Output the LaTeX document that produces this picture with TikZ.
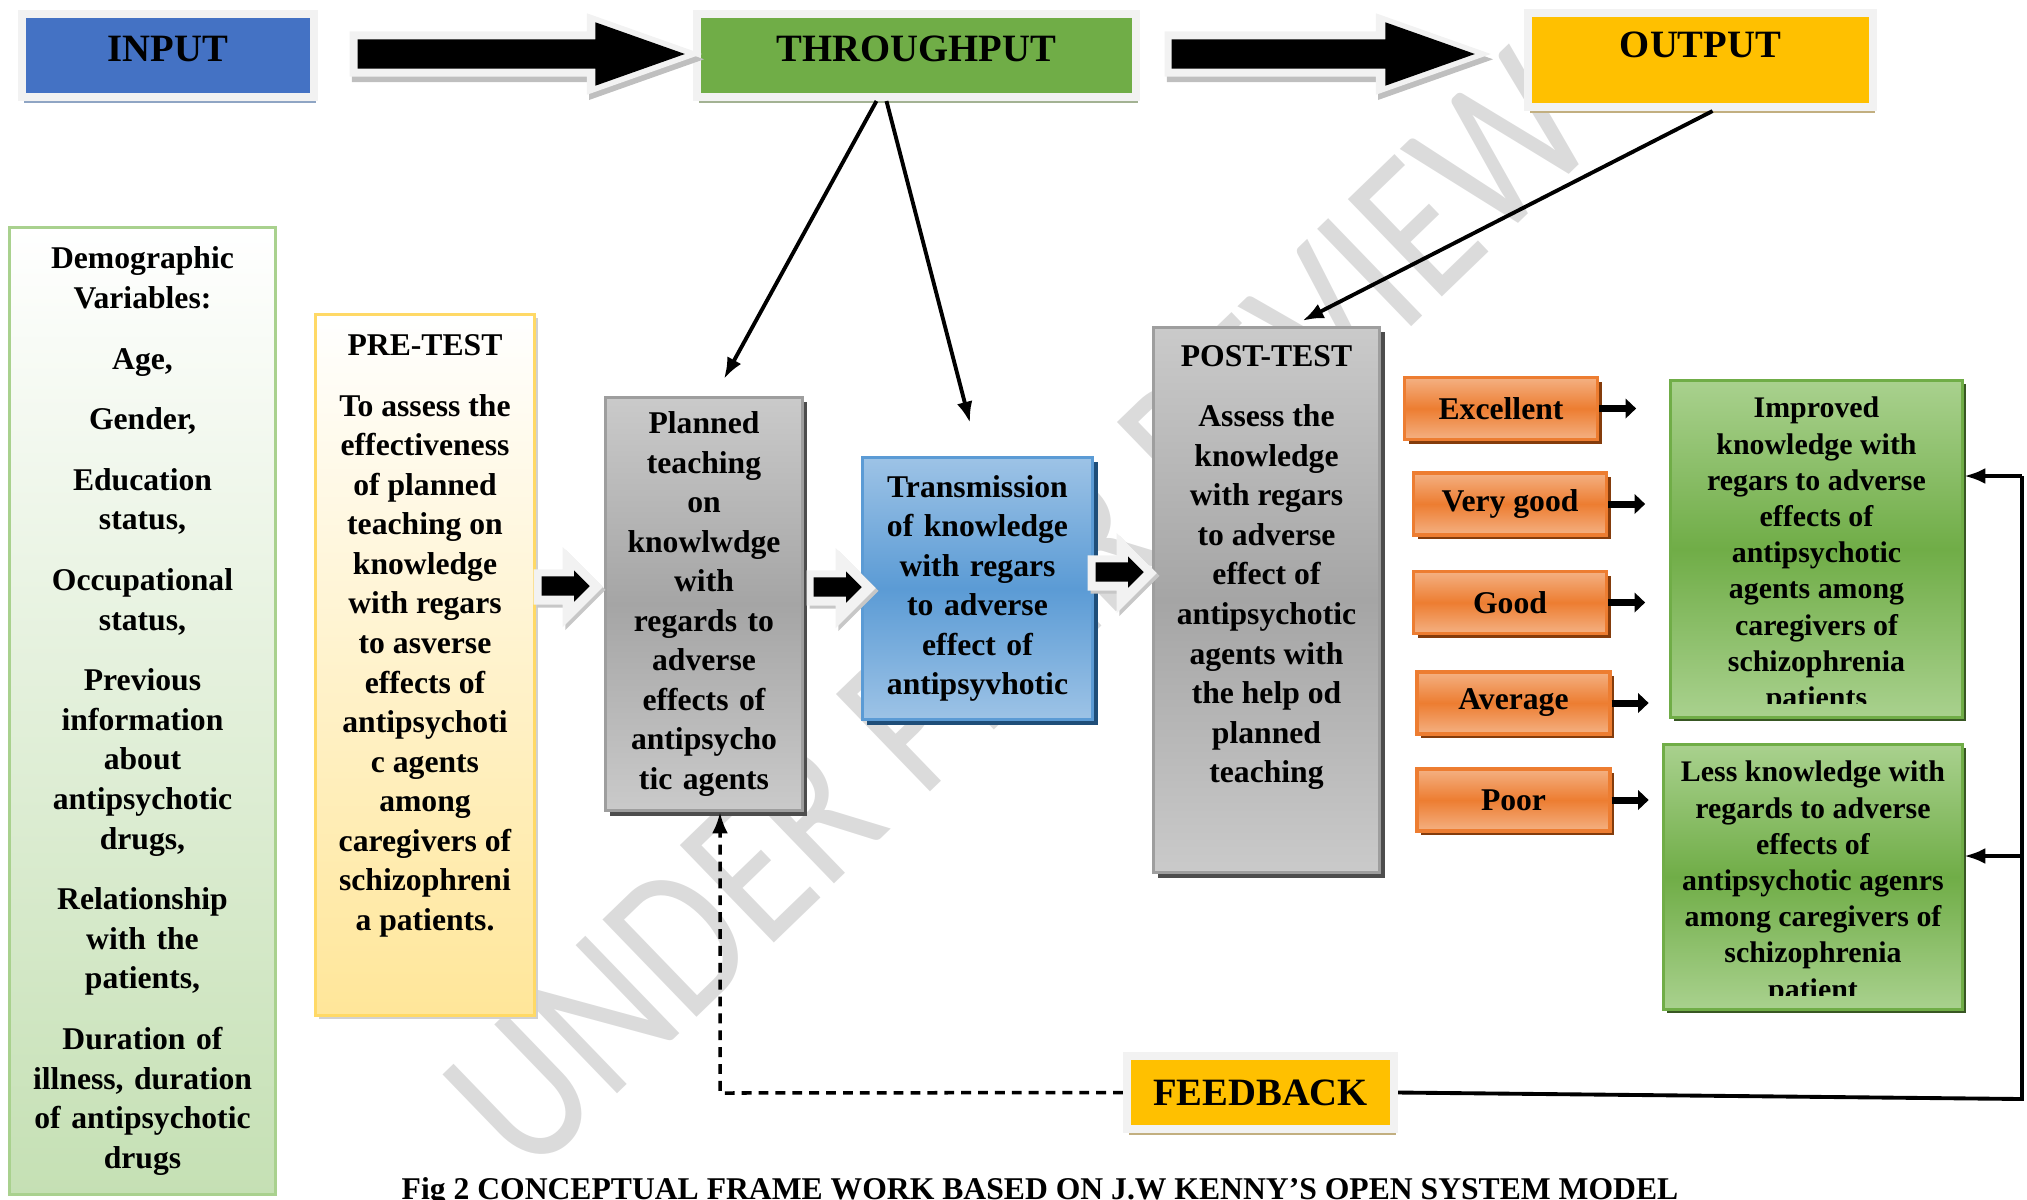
\documentclass[tikz,border=0pt]{standalone}
\usepackage{fontspec}
\setmainfont{Liberation Serif}
\newfontfamily\wmfont{Carlito}
\usetikzlibrary{shapes.arrows,shadows,arrows.meta,calc}

\definecolor{frame}{HTML}{F2F2F2}
\definecolor{inblue}{HTML}{4472C4}
\definecolor{inshadow}{HTML}{8FA5C4}
\definecolor{thrugreen}{HTML}{70AD47}
\definecolor{thrushadow}{HTML}{A3B293}
\definecolor{outyellow}{HTML}{FFC000}
\definecolor{outshadow}{HTML}{C2AF80}
\definecolor{demobottom}{HTML}{C5E0B4}
\definecolor{demoborder}{HTML}{A9D18E}
\definecolor{prebottom}{HTML}{FFE699}
\definecolor{preborder}{HTML}{FFD966}
\definecolor{greylight}{HTML}{CACACA}
\definecolor{greydark}{HTML}{A5A5A5}
\definecolor{greyborder}{HTML}{9E9E9E}
\definecolor{greyshadow}{HTML}{4D4D4D}
\definecolor{bluelight}{HTML}{9DC3E6}
\definecolor{bluemid}{HTML}{5B9BD5}
\definecolor{blueshadow}{HTML}{1F4E79}
\definecolor{orlight}{HTML}{F4B183}
\definecolor{ormid}{HTML}{ED7D31}
\definecolor{orshadow}{HTML}{843C0C}
\definecolor{grlight}{HTML}{A9D18E}
\definecolor{grmid}{HTML}{70AD47}
\definecolor{grshadow}{HTML}{385723}

\begin{document}
\begin{tikzpicture}[x=0.01cm, y=-0.01cm,
    hdbox/.style={draw=frame, line width=0.08cm, inner sep=0pt,
      font=\fontsize{11}{13}\selectfont\bfseries},
    boxtext/.style={align=center, inner sep=0pt,
      font=\fontsize{9}{11.25}\selectfont\bfseries},
    smalltext/.style={align=center, inner sep=0pt,
      font=\fontsize{8.5}{10.3}\selectfont\bfseries},
    demobox/.style={boxtext, draw=demoborder, line width=0.9pt,
      top color=white, bottom color=demobottom},
    prebox/.style={draw=preborder, line width=0.9pt, top color=white, bottom color=prebottom,
      drop shadow={shadow xshift=1pt, shadow yshift=-1pt, fill=black!18, opacity=1}},
    greybox/.style={boxtext, draw=greyborder, line width=0.9pt,
      top color=greylight, bottom color=greylight, middle color=greydark,
      drop shadow={shadow xshift=1.4pt, shadow yshift=-1.4pt, fill=greyshadow, opacity=1}},
    bluebox/.style={boxtext, draw=bluemid, line width=0.9pt,
      top color=bluelight, bottom color=bluelight, middle color=bluemid,
      drop shadow={shadow xshift=1.4pt, shadow yshift=-1.4pt, fill=blueshadow, opacity=1}},
    gradebox/.style={boxtext, draw=ormid, line width=0.9pt,
      top color=orlight, bottom color=orlight, middle color=ormid,
      minimum width=1.93cm, minimum height=0.62cm,
      drop shadow={shadow xshift=1.2pt, shadow yshift=-1.2pt, fill=orshadow, opacity=1}},
    resbox/.style={draw=grmid, line width=0.9pt,
      top color=grlight, bottom color=grlight, middle color=grmid,
      drop shadow={shadow xshift=1pt, shadow yshift=-1pt, fill=grshadow, opacity=1}},
    bigarr/.style={shape=single arrow, anchor=tail, fill=frame, inner xsep=0pt, inner ysep=0.22cm,
      single arrow head extend=0.18cm, single arrow tip angle=39,
      drop shadow={shadow xshift=0.6pt, shadow yshift=-1.5pt, fill=black!25, opacity=1}},
    bigarrbk/.style={shape=single arrow, anchor=tail, fill=black, inner xsep=0pt, inner ysep=0.14cm,
      single arrow head extend=0.17cm, single arrow tip angle=39},
    harr/.style={shape=single arrow, anchor=tail, fill=frame, inner xsep=0pt, inner ysep=0.17cm,
      single arrow head extend=0.225cm, single arrow tip angle=90, minimum height=0.69cm,
      drop shadow={shadow xshift=0.8pt, shadow yshift=-0.8pt, fill=black!22, opacity=1}},
    harrbk/.style={shape=single arrow, anchor=tail, fill=black, inner xsep=0pt, inner ysep=0.09cm,
      single arrow head extend=0.06cm, single arrow tip angle=90, minimum height=0.48cm},
    conn/.style={line width=1.1pt, -{Latex[length=6pt,width=4.5pt]}},
    gradearr/.style={line width=2pt, -{Triangle[length=3pt,width=5.5pt]}},
    fbdash/.style={line width=1pt, dash pattern=on 2.8pt off 2pt, -{Latex[length=6pt,width=4.5pt]}},
    wmark/.style={font=\wmfont\fontsize{60}{60}\selectfont, text=black!14, rotate=44}]

  \useasboundingbox (0,0) rectangle (2027,1199);

  % watermark behind everything
  \node[wmark] (wm) at (1020,612) {\scalebox{0.82}[1]{UNDER PEER REVIEW}};

  % top row
  \node[hdbox, fill=inblue, minimum width=2.92cm, minimum height=0.83cm, text depth=0.13cm,
    drop shadow={shadow xshift=0.6pt, shadow yshift=-1.6pt, fill=inshadow, opacity=1}] (inp) at (168,55.5) {INPUT};
  \node[hdbox, fill=thrugreen, minimum width=4.39cm, minimum height=0.83cm, text depth=0.13cm,
    drop shadow={shadow xshift=0.6pt, shadow yshift=-1.6pt, fill=thrushadow, opacity=1}] (thru) at (916.5,55.5) {THROUGHPUT};
  \node[hdbox, fill=outyellow, minimum width=3.45cm, minimum height=0.94cm, text depth=0.3cm,
    drop shadow={shadow xshift=0.6pt, shadow yshift=-1.6pt, fill=outshadow, opacity=1}] (out) at (1700.5,60) {OUTPUT};

  \node[bigarr, minimum height=3.52cm] (a1o) at (349,54) {};
  \node[bigarrbk, minimum height=3.27cm] (a1) at (357,54) {};
  \node[bigarr, minimum height=3.26cm] (a2o) at (1164,54) {};
  \node[bigarrbk, minimum height=3.03cm] (a2) at (1171,54) {};

  % input variables
  \node[demobox, text width=2.6cm, minimum width=2.66cm, minimum height=9.67cm] (demo) at (142.5,711)
    {Demographic\\ Variables:\\[6pt] Age,\\[6pt] Gender,\\[6pt] Education\\ status,\\[6pt]
     Occupational\\ status,\\[6pt] Previous\\ information\\ about\\ antipsychotic\\ drugs,\\[6pt]
     Relationship\\ with the\\ patients,\\[6pt] Duration of\\ illness, duration\\ of antipsychotic\\ drugs};

  \node[prebox, minimum width=2.19cm, minimum height=7.01cm] (pre) at (425,665) {};
  \node[boxtext, anchor=north] (pretxt) at ([yshift=-6pt]pre.north)
    {PRE-TEST\\[6pt] To assess the\\ effectiveness\\ of planned\\ teaching on\\ knowledge\\ with regars\\
     to asverse\\ effects of\\ antipsychoti\\ c agents\\ among\\ caregivers of\\ schizophreni\\ a patients.};

  % throughput
  \node[greybox, text width=1.9cm, minimum width=1.97cm, minimum height=4.13cm] (plan) at (704,604)
    {Planned\\ teaching\\ on\\ knowlwdge\\ with\\ regards to\\ adverse\\ effects of\\ antipsycho\\ tic agents};
  \node[bluebox, text width=2.2cm, minimum width=2.30cm, minimum height=2.62cm] (trans) at (977.5,588.5)
    {Transmission\\ of knowledge\\ with regars\\ to adverse\\ effect of\\ antipsyvhotic};

  \node[greybox, minimum width=2.26cm, minimum height=5.45cm] (post) at (1266.5,600) {};
  \node[boxtext, anchor=north] (posttxt) at ([yshift=-5.3pt]post.north)
    {POST-TEST\\[6pt] Assess the\\ knowledge\\ with regars\\ to adverse\\ effect of\\ antipsychotic\\
     agents with\\ the help od\\ planned\\ teaching};

  % hollow arrows between boxes
  \node[harr] (h1o) at (533,587) {};
  \node[harrbk] (h1) at (541,586) {};
  \node[harr] (h2o) at (806,588) {};
  \node[harrbk] (h2) at (813,587) {};
  \node[harr] (h3o) at (1087,573) {};
  \node[harrbk] (h3) at (1095,572) {};

  % grades
  \foreach \nm/\xx/\yy/\lbl in {exc/1501/408.5/Excellent, vg/1510/504/Very good, gd/1510/602.5/Good,
      avg/1513.5/703/Average, pr/1513.5/800/Poor}{
    \node[gradebox] (\nm) at (\xx,\yy) {\lbl};
    \draw[gradearr] (\nm.east) -- +(37,0);
  }

  % output results (text clipped at box bottom)
  \node[resbox, minimum width=2.92cm, minimum height=3.37cm] (impr) at (1816.5,549) {};
  \begin{scope}
    \clip ([shift={(0.04cm,0.16cm)}]impr.south west) rectangle (impr.north east);
    \node[smalltext, anchor=north] (imprtxt) at ([yshift=-5pt]impr.north)
      {Improved\\ knowledge with\\ regars to adverse\\ effects of\\ antipsychotic\\ agents among\\
       caregivers of\\ schizophrenia\\ patients};
  \end{scope}
  \node[resbox, minimum width=2.99cm, minimum height=2.65cm] (less) at (1813,877) {};
  \begin{scope}
    \clip ([shift={(0.04cm,0.16cm)}]less.south west) rectangle (less.north east);
    \node[smalltext, anchor=north] (lesstxt) at ([yshift=-5pt]less.north)
      {Less knowledge with\\ regards to adverse\\ effects of\\ antipsychotic agenrs\\
       among caregivers of\\ schizophrenia\\ patient};
  \end{scope}

  % feedback
  \node[hdbox, fill=outyellow, minimum width=2.67cm, minimum height=0.73cm,
    drop shadow={shadow xshift=0.6pt, shadow yshift=-1.6pt, fill=outshadow, opacity=1}] (fb) at (1260.5,1092.5) {FEEDBACK};

  \coordinate (fbR) at (2022,1099);
  \coordinate (fbTop) at (2022,476);
  \coordinate (fbMid) at (2022,856);
  \coordinate (dashc) at (720,1093);
  \draw[line width=1.1pt] (fb.east) -- (fbR) -- (fbTop);
  \draw[conn] (fbTop) -- (fbTop -| impr.east);
  \draw[conn] (fbMid) -- (fbMid -| less.east);
  \draw[fbdash] (fb.west) -- (dashc) -- (dashc |- plan.south);

  % thin arrows from top boxes
  \draw[conn] ([xshift=-0.4cm]thru.south) -- ([xshift=0.2cm,yshift=0.17cm]plan.north);
  \draw[conn] ([xshift=-0.3cm]thru.south) -- ([xshift=-0.075cm,yshift=0.33cm]trans.north);
  \draw[conn] ([xshift=0.12cm]out.south) -- ([xshift=0.36cm,yshift=0.05cm]post.north);

  % caption
  \node[anchor=base, font=\fontsize{9}{11}\selectfont\bfseries] (cap) at (1040,1199)
    {Fig 2 CONCEPTUAL FRAME WORK BASED ON J.W KENNY’S OPEN SYSTEM MODEL};

\end{tikzpicture}
\end{document}
